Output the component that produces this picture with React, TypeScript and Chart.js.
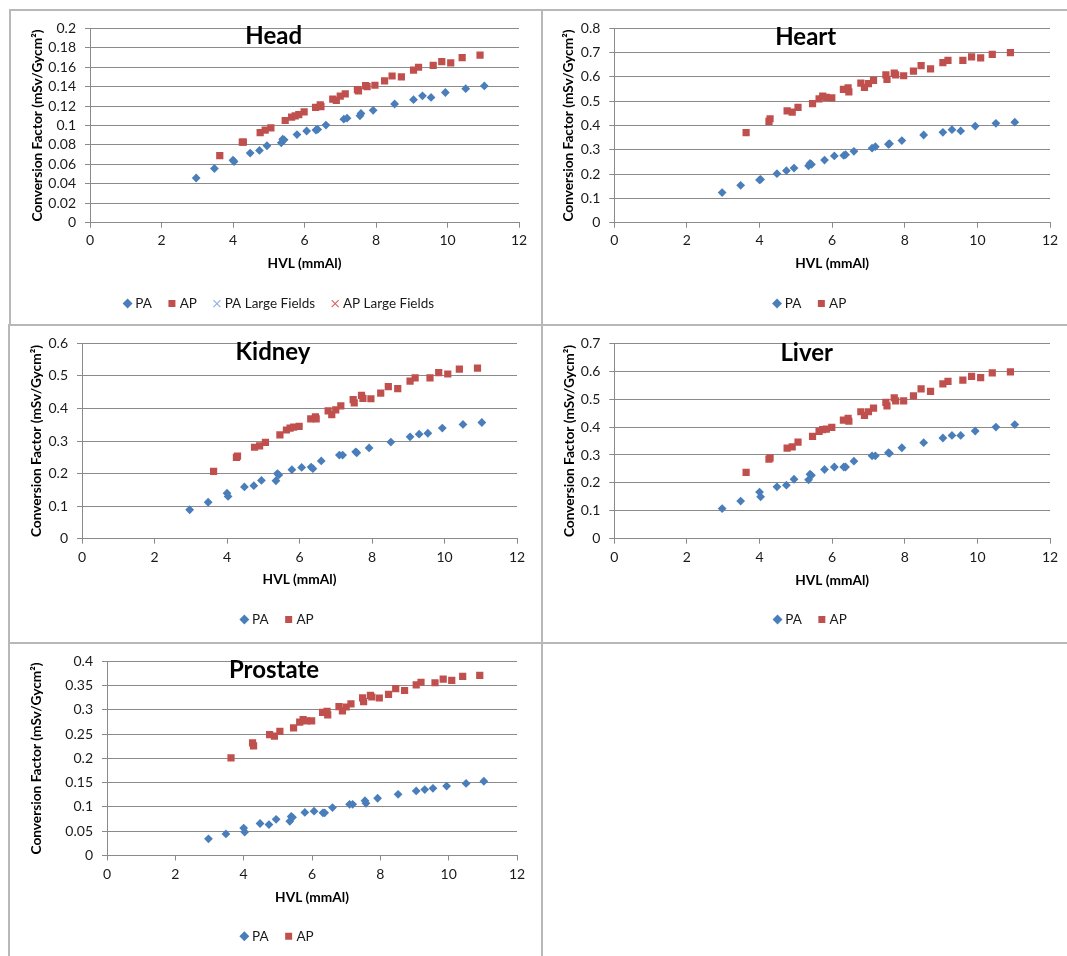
import React, { useEffect, useRef } from "react";
import { Chart, registerables } from "chart.js";

Chart.register(...registerables);

// ---------- DATA ----------
const xTicks = [0, 2, 4, 6, 8, 10, 12];

const paHvl = [2.97, 3.48, 4.0, 4.03, 4.48, 4.74, 4.95, 5.35, 5.39, 5.43, 5.79, 6.06, 6.32, 6.37, 6.6, 7.1, 7.19, 7.55, 7.58, 7.92, 8.52, 9.05, 9.3, 9.54, 9.94, 10.51, 11.03];
const apHvl = [3.63, 4.26, 4.29, 4.76, 4.9, 5.06, 5.46, 5.64, 5.74, 5.84, 5.99, 6.31, 6.44, 6.46, 6.79, 6.89, 7.0, 7.14, 7.48, 7.51, 7.71, 7.75, 7.97, 8.24, 8.45, 8.71, 9.05, 9.19, 9.6, 9.84, 10.09, 10.41, 10.91];

const headPA = [0.046, 0.0558, 0.0643, 0.063, 0.0717, 0.0744, 0.0792, 0.0822, 0.086, 0.0853, 0.0907, 0.0944, 0.0954, 0.096, 0.1005, 0.1066, 0.1076, 0.11, 0.1124, 0.1157, 0.1222, 0.1266, 0.1306, 0.129, 0.134, 0.138, 0.1408];
const headAP = [0.069, 0.083, 0.083, 0.0927, 0.0954, 0.0975, 0.1052, 0.1086, 0.11, 0.1113, 0.114, 0.1188, 0.1212, 0.1195, 0.1272, 0.1259, 0.1303, 0.1327, 0.137, 0.1357, 0.141, 0.14, 0.1415, 0.1459, 0.151, 0.15, 0.157, 0.16, 0.162, 0.1658, 0.1645, 0.17, 0.1726];
const headPALarge: number[] = [];
const headAPLarge: number[] = [];

const heartPA = [0.124, 0.154, 0.176, 0.178, 0.202, 0.214, 0.225, 0.234, 0.244, 0.24, 0.258, 0.275, 0.277, 0.28, 0.294, 0.307, 0.313, 0.323, 0.325, 0.338, 0.361, 0.372, 0.383, 0.378, 0.398, 0.409, 0.414];
const heartAP = [0.371, 0.417, 0.428, 0.46, 0.455, 0.475, 0.49, 0.51, 0.521, 0.516, 0.514, 0.549, 0.555, 0.539, 0.575, 0.557, 0.573, 0.586, 0.609, 0.59, 0.616, 0.609, 0.605, 0.624, 0.647, 0.633, 0.659, 0.668, 0.668, 0.683, 0.679, 0.693, 0.7];

const kidneyPA = [0.089, 0.112, 0.14, 0.13, 0.159, 0.163, 0.179, 0.178, 0.2, 0.196, 0.212, 0.219, 0.22, 0.215, 0.239, 0.257, 0.257, 0.267, 0.264, 0.279, 0.297, 0.313, 0.321, 0.324, 0.34, 0.351, 0.357];
const kidneyAP = [0.207, 0.25, 0.254, 0.281, 0.285, 0.296, 0.319, 0.334, 0.34, 0.343, 0.345, 0.368, 0.374, 0.368, 0.393, 0.381, 0.396, 0.408, 0.427, 0.417, 0.44, 0.431, 0.43, 0.447, 0.467, 0.461, 0.484, 0.494, 0.494, 0.51, 0.506, 0.521, 0.524];

const liverPA = [0.108, 0.135, 0.167, 0.15, 0.186, 0.192, 0.213, 0.211, 0.231, 0.227, 0.248, 0.257, 0.257, 0.257, 0.278, 0.297, 0.297, 0.308, 0.306, 0.326, 0.344, 0.361, 0.37, 0.37, 0.386, 0.4, 0.409];
const liverAP = [0.238, 0.285, 0.29, 0.325, 0.329, 0.346, 0.367, 0.385, 0.391, 0.393, 0.399, 0.425, 0.431, 0.421, 0.455, 0.442, 0.455, 0.468, 0.489, 0.476, 0.505, 0.494, 0.494, 0.512, 0.537, 0.528, 0.555, 0.564, 0.568, 0.582, 0.577, 0.594, 0.598];

const prostatePA = [0.0343, 0.0444, 0.0565, 0.0484, 0.0659, 0.0638, 0.0746, 0.0706, 0.0806, 0.0786, 0.0887, 0.0914, 0.088, 0.088, 0.0988, 0.1055, 0.1055, 0.113, 0.1075, 0.118, 0.126, 0.133, 0.1358, 0.1384, 0.143, 0.1485, 0.153];
const prostateAP = [0.201, 0.232, 0.226, 0.249, 0.246, 0.256, 0.263, 0.275, 0.28, 0.2776, 0.2776, 0.295, 0.297, 0.29, 0.307, 0.298, 0.306, 0.3125, 0.325, 0.317, 0.33, 0.3266, 0.3246, 0.332, 0.344, 0.34, 0.3515, 0.357, 0.356, 0.3636, 0.361, 0.369, 0.371];

const headYTicks = [0, 0.02, 0.04, 0.06, 0.08, 0.1, 0.12, 0.14, 0.16, 0.18, 0.2];
const heartYTicks = [0, 0.1, 0.2, 0.3, 0.4, 0.5, 0.6, 0.7, 0.8];
const kidneyYTicks = [0, 0.1, 0.2, 0.3, 0.4, 0.5, 0.6];
const liverYTicks = [0, 0.1, 0.2, 0.3, 0.4, 0.5, 0.6, 0.7];
const prostateYTicks = [0, 0.05, 0.1, 0.15, 0.2, 0.25, 0.3, 0.35, 0.4];

const xTitle = "HVL (mmAl)";
const yTitle = "Conversion Factor (mSv/Gycm²)";

// ---------- STYLE ----------
const BLUE = "#4A7EBB";
const RED = "#C0504D";
const GRID = "#8a8a8a";
const FONT = "Lato";
const BORDER = "#b8b8b8";

type Layout = {
  x: number; y: number; w: number; h: number;
  pl: number; pr: number; pt: number; pb: number;
  yW: number; xH: number; tpb: number; xPad: number;
  titleBase: number; titleDx: number; legendDx: number;
};

type Spec = {
  title: string;
  pa: number[];
  ap: number[];
  paLarge?: number[];
  apLarge?: number[];
  yTicks: number[];
  lay: Layout;
};

const specs: Spec[] = [
  {
    title: "Head", pa: headPA, ap: headAP, paLarge: headPALarge, apLarge: headAPLarge, yTicks: headYTicks,
    lay: { x: 11, y: 11, w: 530, h: 313, pl: 18.7, pr: 22, pt: 14.7, pb: 3.7, yW: 60.3, xH: 55.1, tpb: 6.3, xPad: 4, titleBase: 33, titleDx: -2.3, legendDx: 6 },
  },
  {
    title: "Heart", pa: heartPA, ap: heartAP, yTicks: heartYTicks,
    lay: { x: 543, y: 11, w: 524, h: 313, pl: 17.4, pr: 17, pt: 14.7, pb: 3.7, yW: 53.9, xH: 55.1, tpb: 6.3, xPad: 4, titleBase: 34, titleDx: 0.7, legendDx: 6 },
  },
  {
    title: "Kidney", pa: kidneyPA, ap: kidneyAP, yTicks: kidneyYTicks,
    lay: { x: 10, y: 326, w: 531, h: 317, pl: 18.0, pr: 24, pt: 15.7, pb: 6.7, yW: 54.0, xH: 55.1, tpb: 5.6, xPad: 5.6, titleBase: 34.3, titleDx: -2.5, legendDx: 6 },
  },
  {
    title: "Liver", pa: liverPA, ap: liverAP, yTicks: liverYTicks,
    lay: { x: 543, y: 326, w: 524, h: 317, pl: 18.4, pr: 17, pt: 15.7, pb: 6.7, yW: 52.9, xH: 55.1, tpb: 4.9, xPad: 5.6, titleBase: 34.7, titleDx: 1.7, legendDx: 6 },
  },
  {
    title: "Prostate", pa: prostatePA, ap: prostateAP, yTicks: prostateYTicks,
    lay: { x: 10, y: 644, w: 531, h: 312, pl: 18.0, pr: 24, pt: 13.7, pb: 3, yW: 79.0, xH: 55.0, tpb: 5.0, xPad: 6, titleBase: 34, titleDx: -1.5, legendDx: 6 },
  },
];

const toPoints = (xs: number[], ys: number[]) => ys.map((y, i) => ({ x: xs[i], y }));
const fmt = (v: any) => String(parseFloat(Number(v).toFixed(4)));

const titlePlugin = {
  id: "panelTitle",
  afterDraw(chart: any, _args: any, opts: any) {
    const { ctx, width } = chart;
    ctx.save();
    ctx.font = `bold 24px ${FONT}`;
    ctx.fillStyle = "#000";
    ctx.textAlign = "center";
    ctx.textBaseline = "alphabetic";
    ctx.fillText(opts.text, width / 2 + opts.dx, opts.baseline);
    ctx.restore();
  },
};

const legendShift = {
  id: "legendShift",
  afterLayout(chart: any, _args: any, opts: any) {
    if (chart.legend) {
      chart.legend.left += opts.dx;
      chart.legend.right += opts.dx;
    }
  },
};

function buildConfig(s: Spec): any {
  const L = s.lay;
  const datasets: any[] = [
    { label: "PA", data: toPoints(paHvl, s.pa), pointStyle: "rectRot", pointRadius: 4.4, backgroundColor: BLUE, borderColor: BLUE, borderWidth: 0 },
    { label: "AP", data: toPoints(apHvl, s.ap), pointStyle: "rect", pointRadius: 5.1, backgroundColor: RED, borderColor: RED, borderWidth: 0 },
  ];
  if (s.paLarge) {
    datasets.push({ label: "PA Large Fields", data: toPoints(paHvl, s.paLarge), pointStyle: "crossRot", pointRadius: 3, backgroundColor: "#8DB3E2", borderColor: "#8DB3E2", borderWidth: 1.2 });
  }
  if (s.apLarge) {
    datasets.push({ label: "AP Large Fields", data: toPoints(apHvl, s.apLarge), pointStyle: "crossRot", pointRadius: 3, backgroundColor: "#E06666", borderColor: "#E06666", borderWidth: 1.2 });
  }
  return {
    type: "scatter",
    data: { datasets },
    plugins: [titlePlugin, legendShift],
    options: {
      responsive: false,
      animation: false,
      events: [],
      layout: { padding: { left: L.pl, right: L.pr, top: L.pt, bottom: L.pb } },
      scales: {
        x: {
          type: "linear",
          min: xTicks[0],
          max: xTicks[xTicks.length - 1],
          afterBuildTicks: (sc: any) => { sc.ticks = xTicks.map((v) => ({ value: v })); },
          afterFit: (sc: any) => { sc.height = L.xH; },
          grid: { drawOnChartArea: false, drawTicks: true, tickLength: 5, color: GRID, lineWidth: 1 },
          border: { display: true, color: GRID, width: 1 },
          ticks: { font: { family: FONT, size: 14 }, color: "#1a1a1a", padding: L.xPad, maxRotation: 0, autoSkip: false },
          title: { display: true, text: xTitle, font: { family: FONT, size: 13.7, weight: "bold" }, color: "#000", padding: { top: 0, bottom: L.tpb } },
        },
        y: {
          type: "linear",
          min: s.yTicks[0],
          max: s.yTicks[s.yTicks.length - 1],
          afterBuildTicks: (sc: any) => { sc.ticks = s.yTicks.map((v) => ({ value: v })); },
          afterFit: (sc: any) => { sc.width = L.yW; },
          grid: { drawTicks: true, tickLength: 5, color: GRID, lineWidth: 1 },
          border: { display: true, color: GRID, width: 1 },
          ticks: { font: { family: FONT, size: 14 }, color: "#1a1a1a", padding: 9, callback: fmt, autoSkip: false },
          title: { display: true, text: yTitle, font: { family: FONT, size: 13.7, weight: "bold" }, color: "#000", padding: { top: 0, bottom: 0 } },
        },
      },
      plugins: {
        tooltip: { enabled: false },
        legend: {
          display: true,
          position: "bottom",
          labels: { usePointStyle: true, boxWidth: 2, boxHeight: 7, padding: 19, font: { family: FONT, size: 13.5 }, color: "#1a1a1a" },
        },
        panelTitle: { text: s.title, baseline: L.titleBase, dx: L.titleDx },
        legendShift: { dx: L.legendDx },
      },
    },
  };
}

function Panel({ spec }: { spec: Spec }) {
  const ref = useRef<HTMLCanvasElement>(null);
  useEffect(() => {
    if (!ref.current) return;
    const chart = new Chart(ref.current, buildConfig(spec));
    return () => chart.destroy();
  }, [spec]);
  const L = spec.lay;
  return (
    <canvas
      ref={ref}
      width={L.w}
      height={L.h}
      style={{ position: "absolute", left: L.x, top: L.y, width: L.w, height: L.h }}
    />
  );
}

const lines = [
  { left: 9, top: 9, width: 1058, height: 2 },
  { left: 8, top: 324, width: 1059, height: 2 },
  { left: 8, top: 642, width: 1059, height: 2 },
  { left: 9, top: 9, width: 2, height: 316 },
  { left: 8, top: 324, width: 2, height: 632 },
  { left: 541, top: 9, width: 2, height: 947 },
];

export default function App() {
  return (
    <div style={{ position: "absolute", left: 0, top: 0, width: 1067, height: 956, background: "#fff", overflow: "hidden" }}>
      {specs.map((s) => (
        <Panel key={s.title} spec={s} />
      ))}
      {lines.map((l, i) => (
        <div key={i} style={{ position: "absolute", background: BORDER, ...l }} />
      ))}
    </div>
  );
}
